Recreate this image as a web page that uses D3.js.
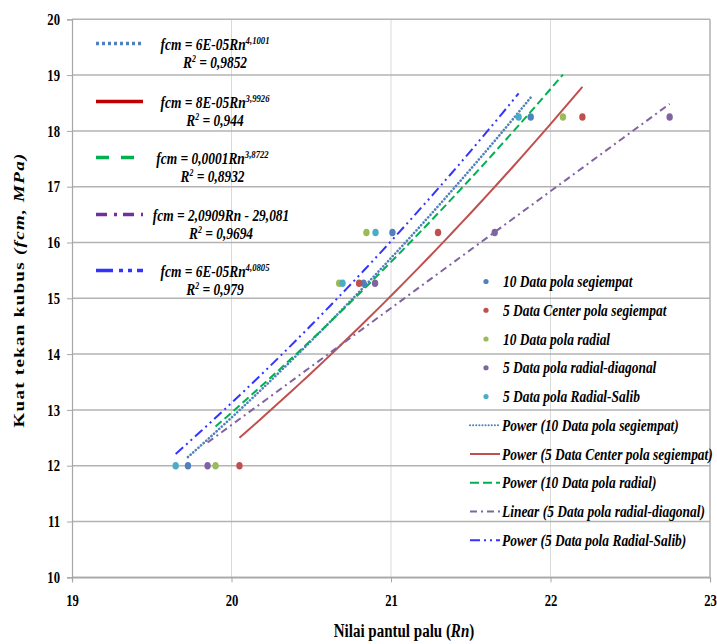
<!DOCTYPE html>
<html>
<head>
<meta charset="utf-8">
<script src="https://cdn.jsdelivr.net/npm/d3@7/dist/d3.min.js"></script>
<style>
  body { margin: 0; background: #fff; }
  svg text { font-family: "Liberation Serif", "Times New Roman", serif; font-weight: bold; }
</style>
</head>
<body>
<svg id="chart" width="717" height="644"></svg>
<script>
(function(){
    'use strict';

    // strength rows (MPa), shared by every series
    var fcmValues = [12.0, 15.27, 16.18, 18.25];

    // rebound numbers, one array per series
    var rnSegiempat = [19.727, 20.828, 21.009, 21.876];
    var rnCenter = [20.05, 20.80, 21.295, 22.20];
    var rnRadial = [19.90, 20.675, 20.846, 22.078];
    var rnDiagonal = [19.85, 20.90, 21.65, 22.747];
    var rnSalib = [19.65, 20.696, 20.903, 21.80];

    var seriesNames = ['10 Data pola segiempat', '5 Data Center pola segiempat', '10 Data pola radial',
        '5 Data pola radial-diagonal', '5 Data pola Radial-Salib'];
    var seriesColors = ['#4f81bd', '#c0504d', '#9bbb59', '#8064a2', '#4bacc6'];
    var trendTypes = ['power', 'power', 'power', 'linear', 'power'];
    var trendColors = ['#4f81bd', '#c0504d', '#00b050', '#8064a2', '#3333ff'];
    var trendDash = ['0.1 3.4', null, '8 4', '7 4 2 4', '10 4 2 4 2 4'];

    // equation box text
    var eqMain = ['fcm = 6E-05Rn', 'fcm = 8E-05Rn', 'fcm = 0,0001Rn', 'fcm = 2,0909Rn - 29,081', 'fcm = 6E-05Rn'];
    var eqExp = ['4,1001', '3,9926', '3,8722', '', '4,0805'];
    var eqR2 = ['0,9852', '0,944', '0,8932', '0,9694', '0,979'];
    var eqColors = ['#4f81bd', '#c00000', '#00b050', '#7030a0', '#3333ff'];
    var eqDash = ['3 3', null, '13 12', '11 7 3 6', '17 6 4 5 4 5'];

    var xTicks = [19, 20, 21, 22, 23];
    var yTicks = [10, 11, 12, 13, 14, 15, 16, 17, 18, 19, 20];

    var rnSeries = [rnSegiempat, rnCenter, rnRadial, rnDiagonal, rnSalib];
    var data = rnSeries.map(function (rn, i) {
        return {
            name: seriesNames[i],
            color: seriesColors[i],
            points: rn.map(function (x, j) { return {x: x, y: fcmValues[j]}; })
        };
    });

    var margin = {top: 19.3, right: 7, bottom: 66.7, left: 72},
        width = 717 - margin.left - margin.right,
        height = 644 - margin.top - margin.bottom;
    var squeeze = 0.79;

    var x = d3.scaleLinear().domain([19, 23]).range([0, width]);
    var y = d3.scaleLinear().domain([10, 20]).range([height, 0]);

    var svg = d3.select('#chart');
    var g = svg.append('g')
        .attr('transform', 'translate(' + margin.left + ',' + margin.top + ')');

    // grid
    g.selectAll('.vgrid').data(xTicks.slice(1)).enter().append('line')
        .attr('x1', x).attr('x2', x).attr('y1', 0).attr('y2', height)
        .attr('stroke', function (d) { return d === 23 ? '#b0b0b0' : '#d9d9d9'; })
        .attr('stroke-width', function (d) { return d === 23 ? 1.5 : 1; });
    g.selectAll('.hgrid').data(yTicks).enter().append('line')
        .attr('x1', 0).attr('x2', width).attr('y1', y).attr('y2', y)
        .attr('stroke', '#b3b3b3').attr('stroke-width', 1.5);

    // axes
    var xAxis = g.append('g')
        .attr('transform', 'translate(0,' + height + ')')
        .call(d3.axisBottom(x).tickValues(xTicks).tickSize(5).tickFormat(d3.format('d')));
    var yAxis = g.append('g')
        .call(d3.axisLeft(y).tickValues(yTicks).tickSize(5).tickFormat(d3.format('d')));
    [xAxis, yAxis].forEach(function (ax) {
        ax.select('.domain').attr('stroke', '#a6a6a6').attr('stroke-width', 1.2);
        ax.selectAll('.tick line').attr('stroke', '#a6a6a6');
        ax.selectAll('.tick text').attr('font-size', 16).attr('fill', '#000')
            .attr('font-family', '"Liberation Serif", serif').attr('font-weight', 'bold');
    });
    xAxis.selectAll('.tick text').attr('y', 0).attr('dy', '0.71em')
        .attr('transform', 'translate(0,17) scale(' + squeeze + ',1)')
        .attr('x', 0);
    yAxis.selectAll('.tick text').attr('dy', '0.32em')
        .attr('transform', 'translate(-12,0) scale(' + squeeze + ',1)').attr('x', 0);

    // trendlines
    function fit(points, type) {
        var tx = type === 'power' ? Math.log : function (v) { return v; };
        var xs = points.map(function (p) { return tx(p.x); });
        var ys = points.map(function (p) { return tx(p.y); });
        var mx = d3.mean(xs), my = d3.mean(ys);
        var sxy = d3.sum(xs, function (v, i) { return (v - mx) * (ys[i] - my); });
        var sxx = d3.sum(xs, function (v) { return (v - mx) * (v - mx); });
        var b = sxy / sxx, a = my - b * mx;
        return type === 'power'
            ? function (v) { return Math.exp(a) * Math.pow(v, b); }
            : function (v) { return a + b * v; };
    }
    var line = d3.line().x(function (d) { return x(d.x); }).y(function (d) { return y(d.y); });
    data.forEach(function (s, i) {
        var f = fit(s.points, trendTypes[i]);
        var ext = d3.extent(s.points, function (p) { return p.x; });
        var curve = d3.range(0, 41).map(function (k) {
            var v = ext[0] + (ext[1] - ext[0]) * k / 40;
            return {x: v, y: f(v)};
        });
        g.append('path').datum(curve)
            .attr('d', line)
            .attr('fill', 'none')
            .attr('stroke', trendColors[i])
            .attr('stroke-width', i === 0 ? 2.6 : 2)
            .attr('stroke-linecap', i === 0 ? 'round' : 'butt')
            .attr('stroke-dasharray', trendDash[i]);
    });

    // points
    data.forEach(function (s) {
        g.selectAll(null).data(s.points).enter().append('ellipse')
            .attr('cx', function (d) { return x(d.x); })
            .attr('cy', function (d) { return y(d.y); })
            .attr('rx', 3.2).attr('ry', 3.8)
            .attr('fill', s.color);
    });

    function sqText(sel, px, py, size, anchor, sq) {
        return sel.append('text')
            .attr('transform', 'translate(' + px + ',' + py + ') scale(' + (sq || squeeze) + ',1)')
            .attr('font-size', size)
            .attr('font-style', 'italic')
            .attr('text-anchor', anchor || 'start');
    }

    // equation box
    var eqCenters = [215, 215, 212.5, 221, 215];
    var eqRows = [46, 104, 160, 217, 273];
    eqMain.forEach(function (txt, i) {
        var ry = eqRows[i];
        svg.append('line')
            .attr('x1', 96).attr('x2', 143).attr('y1', ry - 2.5).attr('y2', ry - 2.5)
            .attr('stroke', eqColors[i]).attr('stroke-width', 3.5)
            .attr('stroke-dasharray', eqDash[i]);
        var t1 = sqText(svg, eqCenters[i], ry + 4, 17, 'middle');
        t1.append('tspan').text(txt);
        if (eqExp[i]) {
            t1.append('tspan').attr('dy', -6).attr('font-size', 11).text(eqExp[i]);
        }
        var t2 = sqText(svg, eqCenters[i], ry + 22, 17, 'middle');
        t2.append('tspan').text('R');
        t2.append('tspan').attr('dy', -6).attr('font-size', 10).text('2');
        t2.append('tspan').attr('dy', 6).text(' = ' + eqR2[i]);
    });

    // right legend
    var legTrend = ['Power (10 Data pola segiempat)', 'Power (5 Data Center pola segiempat)',
        'Power (10 Data pola radial)', 'Linear (5 Data pola radial-diagonal)', 'Power (5 Data pola Radial-Salib)'];
    var legY0 = 281.5, legStep = 28.75, legSq = 0.84;
    data.forEach(function (s, i) {
        var ly = legY0 + i * legStep;
        svg.append('circle').attr('cx', 486).attr('cy', ly).attr('r', 2.6).attr('fill', s.color);
        sqText(svg, 503, ly + 5.5, 16, 'start', legSq).text(s.name);
    });
    legTrend.forEach(function (txt, i) {
        var ly = legY0 + (i + 5) * legStep;
        svg.append('line')
            .attr('x1', 470).attr('x2', 500).attr('y1', ly).attr('y2', ly)
            .attr('stroke', trendColors[i]).attr('stroke-width', 2)
            .attr('stroke-linecap', i === 0 ? 'round' : 'butt')
            .attr('stroke-dasharray', i === 0 ? '0.1 3' : (i === 2 ? '9 4' : trendDash[i]));
        sqText(svg, 502, ly + 5.5, 16, 'start', legSq).text(txt);
    });

    // axis titles
    var xt = svg.append('text')
        .attr('transform', 'translate(404,637) scale(' + squeeze + ',1)')
        .attr('font-size', 19).attr('text-anchor', 'middle');
    xt.append('tspan').text('Nilai pantul palu (');
    xt.append('tspan').attr('font-style', 'italic').text('Rn');
    xt.append('tspan').text(')');

    var yt = svg.append('text')
        .attr('transform', 'translate(24,290) rotate(-90) scale(1,' + squeeze + ')')
        .attr('font-size', 19).attr('text-anchor', 'middle').attr('letter-spacing', 1.3);
    yt.append('tspan').text('Kuat tekan kubus  ');
    yt.append('tspan').attr('font-style', 'italic').text('(fcm, MPa)');
})();
</script>
</body>
</html>
